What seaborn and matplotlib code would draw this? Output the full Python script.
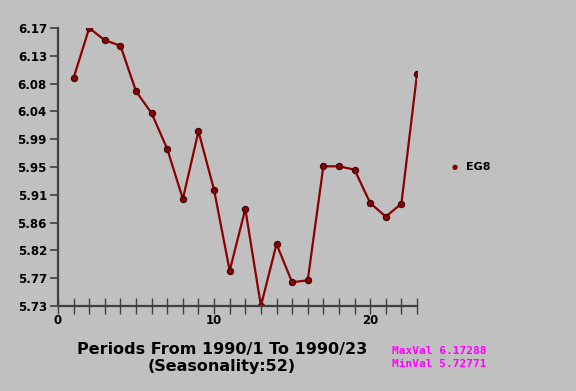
import matplotlib
matplotlib.use("Agg")
import matplotlib.pyplot as plt
import seaborn as sns
import pandas as pd
import numpy as np

periods = list(range(1, 24))
eg8 = [6.0928, 6.17288, 6.1532, 6.1446, 6.0715, 6.0363, 5.9791, 5.8991, 6.0075,
       5.9135, 5.7842, 5.8831, 5.72771, 5.8270, 5.7657, 5.7689, 5.9514, 5.9514,
       5.9460, 5.8927, 5.8707, 5.8916, 6.0988]
series_name = "EG8"
x_label = "Periods From 1990/1 To 1990/23\n(Seasonality:52)"
max_val = 6.17288
min_val = 5.72771

df = pd.DataFrame({"period": periods, "value": eg8, "series": series_name})

sns.set_style("white")
plt.rcParams["font.family"] = ["DejaVu Sans"]
plt.rcParams["text.color"] = "black"
bg = "#C0C0C0"
fig = plt.figure(figsize=(5.76, 3.91), dpi=100, facecolor=bg)
ax = fig.add_axes([58/576, 1-306/391, (417-58)/576, (306-28)/391])
ax.set_facecolor(bg)

sns.lineplot(data=df, x="period", y="value", hue="series", palette=["#8B0000"],
             marker="o", markersize=4.5, markeredgecolor="#3a0000", markeredgewidth=0.8,
             linewidth=1.6, ax=ax, legend=False)

ax.set_xlim(0, 23)
ax.set_ylim(min_val, max_val)
yt = np.linspace(min_val, max_val, 11)
ax.set_yticks(yt)
ax.set_yticklabels([f"{v:.2f}" for v in yt], fontweight="bold", fontsize=8.5, color="black")
ax.set_xticks(range(0, 24))
ax.set_xticklabels([str(i) if i % 10 == 0 else "" for i in range(0, 24)],
                   fontweight="bold", fontsize=8.5, color="black")
ax.tick_params(axis="y", left=True, direction="out", length=6, width=1.2, color="#404040", pad=2)
ax.tick_params(axis="x", bottom=True, direction="inout", length=12, width=1.0, color="#404040", pad=0)
for s in ["top", "right"]:
    ax.spines[s].set_visible(False)
for s in ["left", "bottom"]:
    ax.spines[s].set_color("#404040")
    ax.spines[s].set_linewidth(1.6)
ax.set_xlabel("")
ax.set_ylabel("")
for sp in ax.spines.values():
    sp.set_clip_on(False)

# legend
fig.text(455/576, 1-167/391, "●", color="#8B0000", fontsize=5, ha="center", va="center")
fig.text(466/576, 1-167/391, series_name, fontsize=8, fontweight="bold", ha="left", va="center")

fig.text(222/576, 1-358/391, x_label, fontsize=11.5, fontweight="bold", color="black",
         ha="center", va="center", linespacing=1.15)
fig.text(392/576, 1-351/391, f"MaxVal {max_val:.5f}", color="#FF00FF", fontsize=8,
         family="DejaVu Sans Mono", fontweight="bold", ha="left", va="center")
fig.text(392/576, 1-364/391, f"MinVal {min_val:.5f}", color="#FF00FF", fontsize=8,
         family="DejaVu Sans Mono", fontweight="bold", ha="left", va="center")

fig.savefig("out.png", dpi=100, facecolor=bg)
